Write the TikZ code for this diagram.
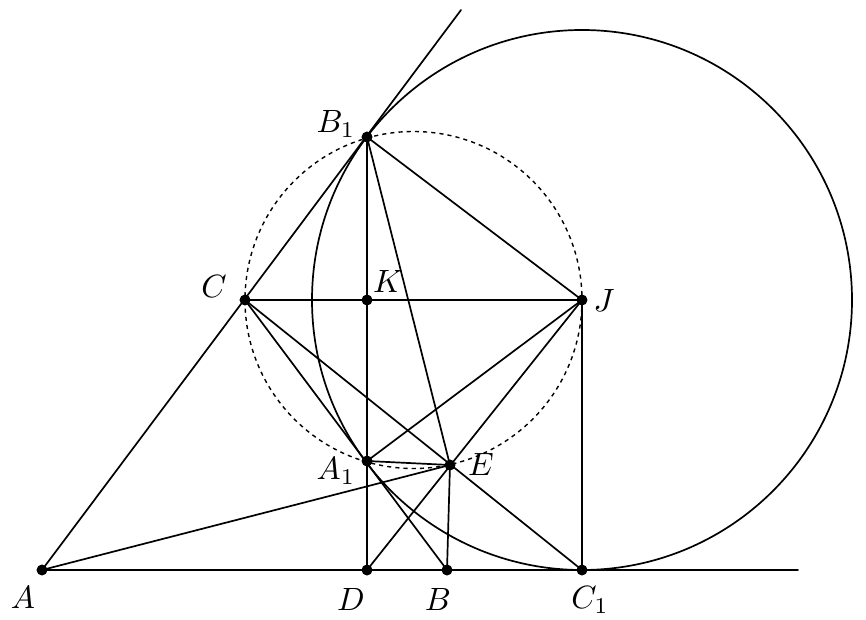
\documentclass[tikz,border=0pt]{standalone}
\usepackage{graphicx}
\begin{document}
\begin{tikzpicture}[x=0.03cm,y=-0.03cm,
  seg/.style={line width=1.45pt, line cap=round},
  pt/.style={circle, fill=black, inner sep=0pt, minimum size=9pt},
  lab/.style={inner sep=0pt}]
\useasboundingbox (0,0) rectangle (866,620);
% points
\node[pt] (A) at (42,570) {};
\node[pt] (D) at (367,570) {};
\node[pt] (B) at (447,570) {};
\node[pt] (C1) at (582,570) {};
\node[pt] (C) at (245,300) {};
\node[pt] (K) at (367,300) {};
\node[pt] (J) at (582,300) {};
\node[pt] (B1) at (367,137) {};
\node[pt] (A1) at (367,461) {};
\node[pt] (E) at (450,465) {};
\coordinate (T) at (461,10);
\coordinate (R) at (798,570);
\coordinate (O) at (413.5,300);
% circles
\draw[line width=1.2pt, dash pattern=on 3.5pt off 3.5pt] (O) circle (168.5);
\draw[seg] (J) circle (270);
% lines
\draw[seg] (A.center) -- (T);
\draw[seg] (A.center) -- (R);
\draw[seg] (C.center) -- (J.center);
\draw[seg] (B1.center) -- (D.center);
\draw[seg] (B1.center) -- (J.center);
\draw[seg] (B1.center) -- (E.center);
\draw[seg] (J.center) -- (C1.center);
\draw[seg] (C.center) -- (B.center);
\draw[seg] (C.center) -- (C1.center);
\draw[seg] (J.center) -- (A1.center);
\draw[seg] (J.center) -- (D.center);
\draw[seg] (A.center) -- (E.center);
\draw[seg] (A1.center) -- (E.center);
\draw[seg] (E.center) -- (B.center);
% redraw dots on top
\foreach \p in {A,D,B,C1,C,K,J,B1,A1,E} \fill (\p) circle (4.6pt);
% labels
\node[lab] (lA) at (23,597) {\scalebox{2.75}{$A$}};
\node[lab] (lD) at (351,599) {\scalebox{2.75}{$D$}};
\node[lab] (lB) at (438,599) {\scalebox{2.75}{$B$}};
\node[lab] (lC1) at (590,600) {\scalebox{2.75}{$C_1$}};
\node[lab] (lA1) at (336,471) {\scalebox{2.75}{$A_1$}};
\node[lab] (lE) at (481,464) {\scalebox{2.75}{$E$}};
\node[lab] (lK) at (388,281) {\scalebox{2.75}{$K$}};
\node[lab] (lC) at (214,286) {\scalebox{2.75}{$C$}};
\node[lab] (lB1) at (336,124) {\scalebox{2.75}{$B_1$}};
\node[lab] (lJ) at (604,300) {\scalebox{2.75}{$J$}};
\end{tikzpicture}
\end{document}
